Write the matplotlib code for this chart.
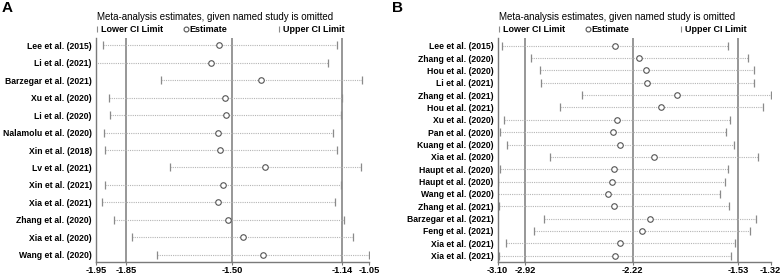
"""
Influence (leave-one-out) plots for two meta-analyses, panels A and B.
Saves out.png (783x277).
"""
import matplotlib
matplotlib.use("Agg")
import matplotlib.pyplot as plt
from matplotlib.lines import Line2D

plt.rcParams["font.family"] = ["Liberation Sans", "DejaVu Sans"]

# ---- panel A data ----
studies_a = ["Lee et al. (2015)", "Li et al. (2021)", "Barzegar et al. (2021)",
             "Xu et al. (2020)", "Li et al. (2020)", "Nalamolu et al. (2020)",
             "Xin et al. (2018)", "Lv et al. (2021)", "Xin et al. (2021)",
             "Xia et al. (2021)", "Zhang et al. (2020)", "Xia et al. (2020)",
             "Wang et al. (2020)"]
lower_a = [-1.928, -1.96, -1.735, -1.906, -1.903, -1.925, -1.920, -1.705,
           -1.919, -1.929, -1.892, -1.830, -1.748]
est_a = [-1.543, -1.571, -1.405, -1.524, -1.521, -1.547, -1.540, -1.393,
         -1.530, -1.547, -1.514, -1.466, -1.399]
upper_a = [-1.156, -1.186, -1.074, -1.140, -1.142, -1.168, -1.156, -1.077,
           -1.142, -1.163, -1.133, -1.104, -1.050]
overall_a = [-1.85, -1.50, -1.14]
ticks_a = [-1.95, -1.85, -1.50, -1.14, -1.05]

# ---- panel B data ----
studies_b = ["Lee et al. (2015)", "Zhang et al. (2020)", "Hou et al. (2020)",
             "Li et al. (2021)", "Zhang et al. (2021)", "Hou et al. (2021)",
             "Xu et al. (2020)", "Pan et al. (2020)", "Kuang et al. (2020)",
             "Xia et al. (2020)", "Haupt et al. (2020)", "Haupt et al. (2020)",
             "Wang et al. (2020)", "Zhang et al. (2021)", "Barzegar et al. (2021)",
             "Feng et al. (2021)", "Xia et al. (2021)", "Xia et al. (2021)"]
lower_b = [-3.072, -2.881, -2.826, -2.815, -2.550, -2.695, -3.059, -3.085,
           -3.037, -2.757, -3.083, -3.096, -3.11, -3.092, -2.796, -2.863,
           -3.046, -3.094]
est_b = [-2.334, -2.180, -2.130, -2.123, -1.932, -2.034, -2.321, -2.345,
         -2.300, -2.078, -2.339, -2.354, -2.378, -2.339, -2.108, -2.158,
         -2.300, -2.337]
upper_b = [-1.599, -1.468, -1.429, -1.427, -1.320, -1.370, -1.584, -1.608,
           -1.558, -1.399, -1.595, -1.616, -1.649, -1.588, -1.416, -1.451,
           -1.553, -1.579]
overall_b = [-2.92, -2.22, -1.53]
ticks_b = [-3.10, -2.92, -2.22, -1.53, -1.32]

W, H = 783, 277
GREY = "#7a7a7a"
FS = 6.2


def panel(fig, rect, studies, lower, est, upper, overall, ticks, top_pad, bot_pad, letter, lx):
    ax = fig.add_axes(rect)
    n = len(studies)
    ys = list(range(n))
    for y, lo, e, up in zip(ys, lower, est, upper):
        ax.plot([lo, up], [y, y], ls=(0, (1, 1)), color="#b5b5b5", lw=0.8, zorder=1)
        ax.plot([lo, up], [y, y], ls="none", marker="|", ms=5.5, mew=0.9,
                color="#8a8a8a", zorder=2)
        ax.plot(e, y, ls="none", marker="o", ms=4, mfc="white", mec="#555555",
                mew=0.8, zorder=3)
    for v in overall:
        ax.axvline(v, color=GREY, lw=1.1, zorder=0)
    ax.set_xlim(ticks[0], ticks[-1])
    ax.set_ylim(n - 1 + bot_pad, -top_pad)
    ax.set_yticks(ys)
    ax.set_yticklabels(studies, fontsize=FS, fontweight="bold")
    ax.tick_params(axis="y", length=0, pad=3)
    ax.set_xticks(ticks)
    ax.set_xticklabels([f"{t:.2f}" for t in ticks], fontsize=6.7, fontweight="bold")
    ax.tick_params(axis="x", length=2, width=0.8, color=GREY, pad=1)
    for s in ("top", "right"):
        ax.spines[s].set_visible(False)
    for s in ("left", "bottom"):
        ax.spines[s].set_color(GREY)
        ax.spines[s].set_linewidth(1.0)

    # title + hand-made legend above the axes
    x0 = rect[0] * W
    x1 = (rect[0] + rect[2]) * W
    fig.text((x0 + 1) / W, 1 - 17 / H, "Meta-analysis estimates, given named study is omitted",
             fontsize=7, ha="left", va="center")
    ly = 1 - 29 / H
    items = [(0.0, "|", "Lower CI Limit"), (0.325, "o", "Estimate"), (0.668, "|", "Upper CI Limit")]
    for frac, sym, lab in items:
        px = x0 + frac * (x1 - x0)
        if sym == "o":
            fig.add_artist(Line2D([(px + 1.5) / W], [ly], marker="o", ms=3.5, mfc="white",
                                  mec="#555555", mew=0.8, transform=fig.transFigure))
        else:
            fig.add_artist(Line2D([(px + 1) / W], [ly], marker="|", ms=4.5, mew=0.8,
                                  color="#8a8a8a", transform=fig.transFigure))
        fig.text((px + 5) / W, ly, lab, fontsize=6.5, fontweight="bold", ha="left", va="center")
    fig.text(lx / W, 1 - 8 / H, letter, fontsize=11, fontweight="bold", ha="left", va="center")
    return ax


fig = plt.figure(figsize=(W / 100, H / 100), dpi=100)
bottom = 1 - 262 / H
height = (262 - 38) / H
panel(fig, [96 / W, bottom, (369 - 96) / W, height], studies_a, lower_a, est_a, upper_a,
      overall_a, ticks_a, 0.43, 0.43, "A", 2)
panel(fig, [497.7 / W, bottom, (770.5 - 497.7) / W, height], studies_b, lower_b, est_b, upper_b,
      overall_b, ticks_b, 0.62, 0.51, "B", 392)

fig.savefig("out.png", dpi=100)
